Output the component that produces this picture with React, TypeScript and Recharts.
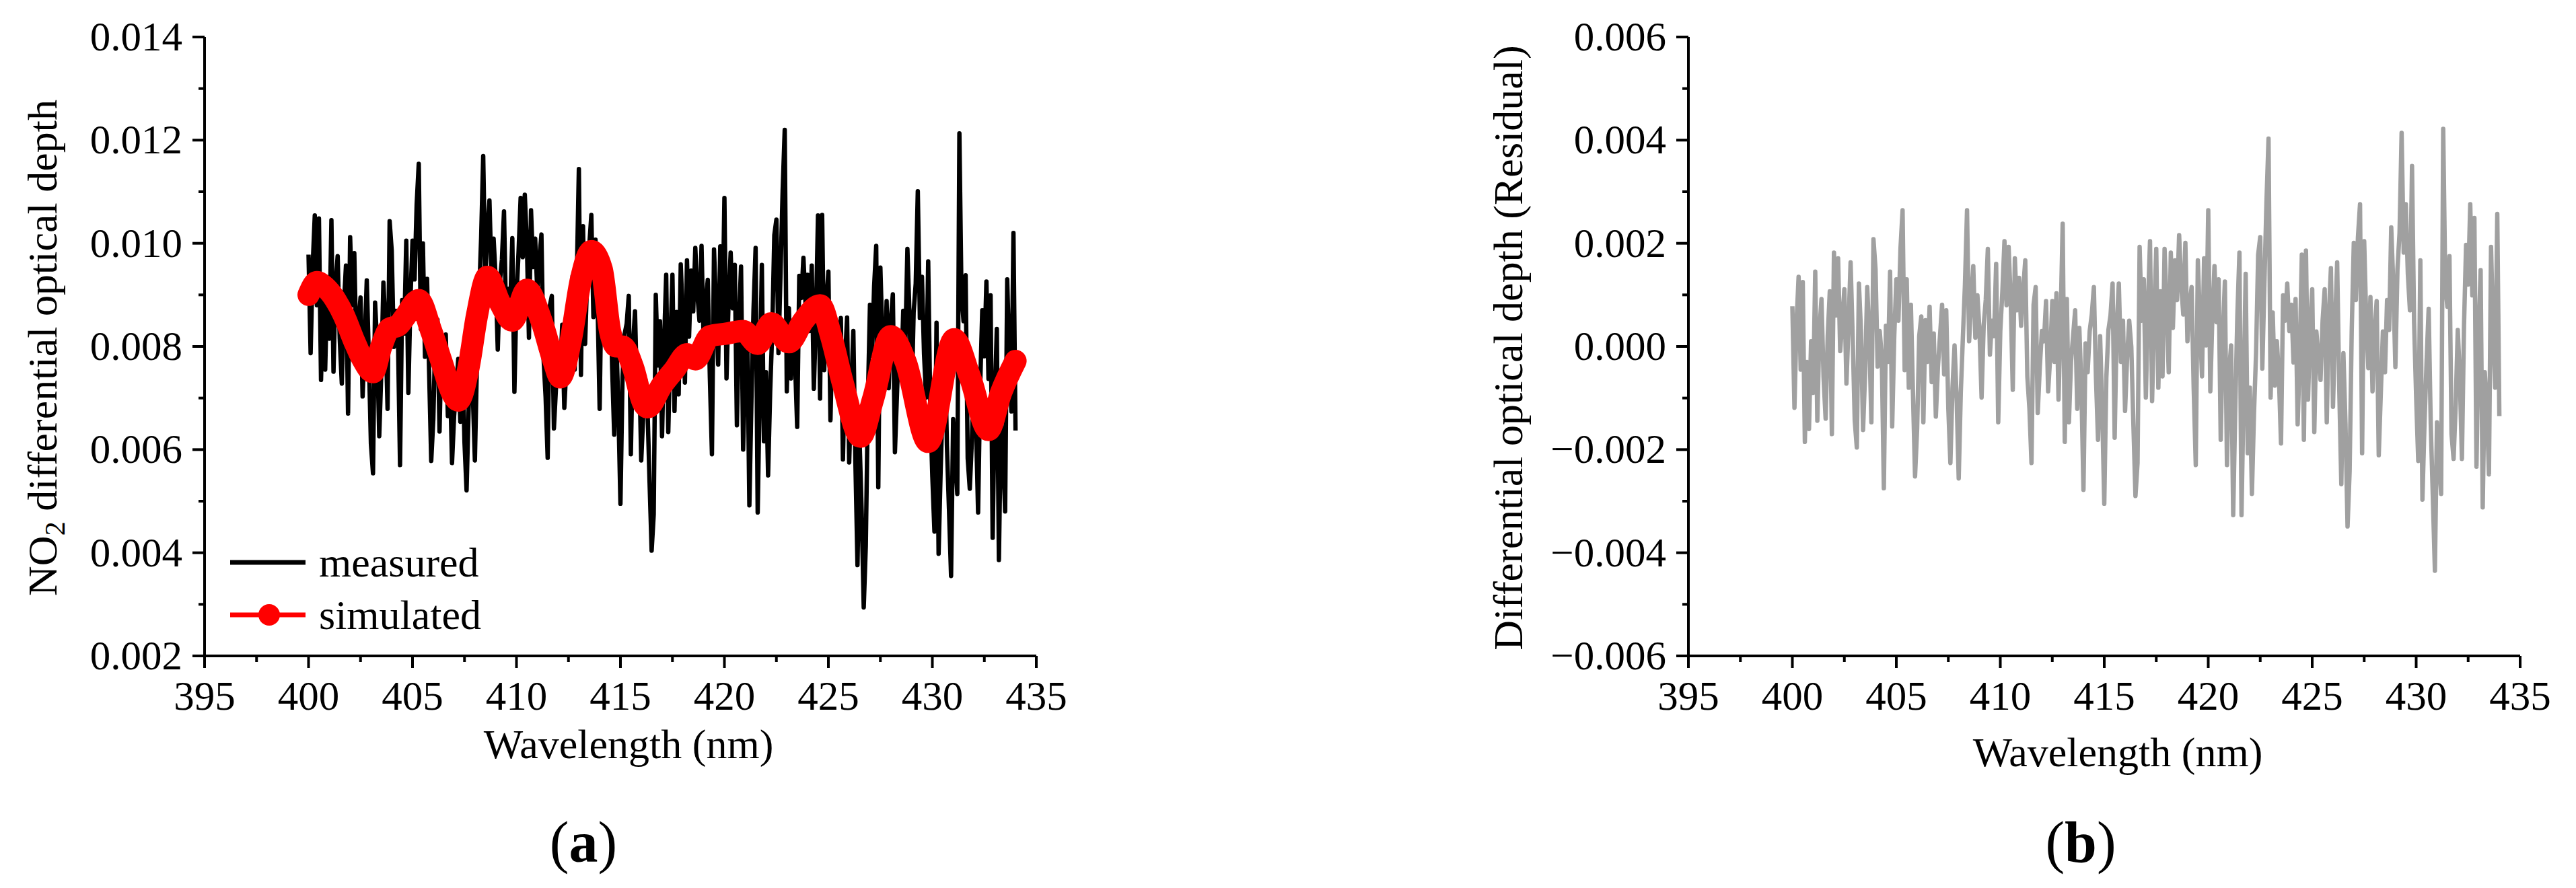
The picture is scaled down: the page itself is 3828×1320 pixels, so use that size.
import React from 'react';
import { LineChart, Line, XAxis, YAxis, Legend } from 'recharts';

const FONT = "'Liberation Serif', 'Times New Roman', serif";

// spectra are sampled every 0.1 nm from 400 to 434 nm
const WL_START = 400;
const WL_STEP = 0.1;

// measured NO2 differential optical depth (units of 1e-3), one row per nm
const measured = [
  9.78, 7.87, 9.57, 10.54, 8.8, 10.48, 7.35, 8.88, 7.55, 9.2,
  8.15, 10.45, 7.51, 9.2, 9.75, 8.15, 7.28, 8.8, 9.57, 6.7,
  10.12, 8.8, 9.81, 7.92, 8.43, 8.95, 7.03, 8.1, 9.28, 7.8,
  6.11, 5.54, 8.85, 8.05, 6.26, 7.5, 9.24, 8.38, 6.79, 10.43,
  9.86, 7.99, 8.69, 8.2, 5.7, 8.9, 8.25, 10.05, 7.1, 8.9,
  10.05, 9.3, 10.75, 11.54, 8.34, 10.0, 7.8, 9.31, 7.5, 5.78,
  6.58, 8.26, 8.52, 6.35, 8.21, 7.28, 8.23, 6.65, 7.47, 5.74,
  6.65, 7.2, 7.76, 6.54, 7.91, 6.14, 5.21, 6.8, 7.87, 7.1,
  5.79, 7.7, 8.92, 10.1, 11.69, 9.3, 10.25, 10.83, 9.35, 10.09,
  9.32, 7.94, 9.25, 9.69, 10.62, 8.52, 9.12, 8.76, 10.1, 7.12,
  8.97, 9.83, 10.88, 9.73, 10.94, 10.0, 8.17, 10.64, 9.54, 10.09,
  9.07, 9.69, 10.17, 7.79, 7.03, 5.84, 8.78, 8.98, 6.41, 7.2,
  7.8, 7.5, 8.42, 6.81, 7.62, 8.84, 7.8, 9.37, 7.55, 9.32,
  11.44, 7.45, 10.33, 8.05, 9.33, 9.94, 10.55, 8.57, 10.07, 8.84,
  6.79, 9.56, 8.7, 9.2, 9.22, 9.45, 7.6, 6.29, 8.2, 6.8,
  4.95, 7.4, 8.24, 8.44, 8.98, 5.91, 8.0, 8.68, 7.02, 7.68,
  5.79, 6.7, 7.36, 6.81, 5.38, 4.04, 4.74, 9.0, 7.63, 8.49,
  6.26, 8.1, 9.39, 6.34, 8.05, 9.39, 6.75, 8.67, 7.07, 9.59,
  8.55, 7.3, 9.67, 8.19, 9.47, 8.68, 9.91, 9.01, 8.5, 9.95,
  8.11, 8.87, 9.29, 7.4, 5.91, 9.88, 8.72, 7.65, 9.94, 8.26,
  10.88, 7.38, 8.86, 9.82, 8.74, 9.58, 6.47, 8.49, 9.55, 6.0,
  7.76, 8.25, 4.92, 6.96, 8.72, 9.91, 4.78, 7.21, 9.58, 6.16,
  7.5, 5.5, 7.12, 8.3, 10.16, 10.46, 7.87, 9.45, 11.01, 12.2,
  7.13, 8.74, 7.38, 8.3, 7.66, 6.44, 9.37, 8.94, 9.72, 8.84,
  9.39, 8.3, 9.57, 7.18, 8.53, 10.54, 6.99, 10.55, 7.54, 8.86,
  9.45, 6.57, 8.38, 7.73, 7.12, 8.1, 8.55, 5.81, 7.76, 8.56,
  5.75, 7.19, 8.3, 5.75, 3.76, 6.18, 4.81, 2.94, 4.14, 6.98,
  8.81, 7.82, 9.17, 9.95, 5.27, 9.53, 8.13, 7.36, 8.88, 7.19,
  8.5, 9.01, 5.95, 7.09, 8.22, 7.36, 8.69, 8.04, 9.89, 8.64,
  6.9, 8.66, 9.22, 11.01, 8.55, 9.35, 7.85, 7.01, 9.65, 6.78,
  5.47, 4.41, 8.46, 3.98, 5.61, 6.96, 8.15, 6.08, 4.84, 3.55,
  6.59, 5.9, 5.14, 12.13, 9.02, 8.49, 9.38, 5.83, 5.24, 6.17,
  7.51, 6.48, 4.78, 7.24, 8.7, 7.81, 9.26, 7.37, 8.99, 4.29,
  6.94, 8.34, 3.86, 6.6, 5.99, 4.8, 9.3, 7.75, 6.74, 10.2,
  6.37,
];

// residual of the fit (units of 1e-3), same grid
const residual = [
  0.78, -1.19, 0.45, 1.35, -0.45, 1.25, -1.85, -0.3, -1.6, 0.1,
  -0.9, 1.45, -1.44, 0.3, 0.92, -0.6, -1.4, 0.2, 1.07, -1.7,
  1.82, 0.6, 1.71, -0.09, 0.5, 1.11, -0.72, 0.4, 1.63, 0.2,
  -1.44, -1.96, 1.22, 0.3, -1.62, -0.5, 1.15, 0.2, -1.47, 2.08,
  1.5, -0.39, 0.3, -0.2, -2.75, 0.4, -0.3, 1.45, -1.55, 0.2,
  1.3, 0.5, 1.9, 2.64, -0.46, 1.3, -0.8, 0.81, -0.9, -2.52,
  -1.6, 0.2, 0.58, -1.47, 0.51, -0.3, 0.77, -0.69, 0.25, -1.36,
  -0.4, 0.2, 0.81, -0.54, 0.7, -1.2, -2.26, -0.8, 0.02, -1.0,
  -2.56, -0.9, 0.17, 1.2, 2.64, 0.1, 0.9, 1.56, 0.17, 0.99,
  0.3, -0.99, 0.4, 0.9, 1.89, -0.16, 0.5, 0.2, 1.6, -1.47,
  0.3, 1.07, 2.04, 0.8, 1.93, 0.9, -0.84, 1.71, 0.7, 1.33,
  0.4, 1.1, 1.67, -0.58, -1.2, -2.26, 0.81, 1.15, -1.29, -0.4,
  0.3, 0.1, 0.88, -0.87, -0.2, 0.88, -0.3, 1.03, -1.03, 0.5,
  2.38, -1.85, 0.92, -1.47, -0.3, 0.2, 0.7, -1.21, 0.36, -0.8,
  -2.78, 0.06, -0.5, 0.3, 0.62, 1.15, -0.6, -1.81, 0.2, -1.2,
  -3.05, -0.6, 0.32, 0.6, 1.22, -1.77, 0.4, 1.22, -0.3, 0.5,
  -1.25, -0.2, 0.5, -0.01, -1.5, -2.9, -2.26, 1.93, 0.5, 1.3,
  -0.99, 0.8, 2.04, -1.06, 0.6, 1.89, -0.8, 1.07, -0.58, 1.89,
  0.8, -0.5, 1.82, 0.36, 1.67, 0.9, 2.16, 1.2, 0.62, 2.01,
  0.1, 0.8, 1.15, -0.8, -2.3, 1.67, 0.5, -0.58, 1.71, 0.02,
  2.64, -0.87, 0.6, 1.56, 0.47, 1.3, -1.81, 0.2, 1.26, -2.3,
  -0.5, 0.02, -3.27, -1.2, 0.6, 1.82, -3.27, -0.9, 1.41, -2.07,
  -0.8, -2.86, -1.3, -0.13, 1.78, 2.12, -0.43, 1.2, 2.8, 4.03,
  -0.99, 0.66, -0.76, 0.1, -0.6, -1.88, 0.99, 0.5, 1.22, 0.3,
  0.81, -0.31, 0.92, -1.51, -0.2, 1.78, -1.81, 1.86, -1.03, 0.4,
  1.11, -1.66, 0.29, -0.2, -0.65, 0.5, 1.11, -1.47, 0.6, 1.52,
  -1.17, 0.4, 1.63, -0.8, -2.67, -0.13, -1.5, -3.49, -2.41, 0.3,
  2.01, 0.9, 2.12, 2.76, -2.07, 2.04, 0.5, -0.42, 0.96, -0.87,
  0.3, 0.88, -2.11, -0.9, 0.29, -0.5, 0.9, 0.32, 2.31, 1.2,
  -0.4, 1.5, 2.2, 4.14, 1.82, 2.76, 1.4, 0.7, 3.5, 0.47,
  -1.0, -2.22, 1.67, -2.97, -1.5, -0.3, 0.73, -1.5, -2.9, -4.35,
  -1.47, -2.2, -2.86, 4.22, 1.2, 0.77, 1.75, -1.7, -2.18, -1.14,
  0.32, -0.6, -2.18, 0.4, 1.97, 1.2, 2.76, 0.99, 2.49, -2.33,
  0.2, 1.48, -3.12, -0.5, -1.2, -2.48, 1.93, 0.3, -0.8, 2.57,
  -1.35,
];

// simulated curve, read at its turning points (nm, units of 1e-3)
const simWl = [
  400.0, 400.4, 400.8, 401.3, 401.7, 402.2, 402.6, 403.1, 403.5, 403.9,
  404.3, 404.6, 405.3, 405.9, 406.4, 406.9, 407.2, 407.7, 408.1, 408.6,
  409.2, 409.8, 410.5, 411.2, 411.8, 412.1, 412.6, 413.1, 413.6, 414.1,
  414.5, 414.8, 415.1, 415.6, 416.1, 416.3, 417.0, 417.6, 418.2, 418.6,
  419.3, 420.1, 420.9, 421.6, 422.25, 423.1, 423.8, 424.6, 425.15, 425.7,
  426.55, 427.15, 428.0, 428.7, 429.8, 431.05, 431.8, 432.7, 433.3, 434.0,
];
const simOd = [
  9.0, 9.25, 9.15, 8.9, 8.6, 8.1, 7.75, 7.5, 8.0, 8.35,
  8.4, 8.55, 8.9, 8.3, 7.7, 7.1, 6.95, 7.6, 8.6, 9.35,
  8.85, 8.5, 9.1, 8.5, 7.7, 7.4, 8.1, 9.3, 9.85, 9.5,
  8.3, 8.0, 8.0, 7.6, 6.9, 6.82, 7.25, 7.55, 7.85, 7.75,
  8.2, 8.25, 8.3, 8.05, 8.45, 8.08, 8.5, 8.8, 8.17, 7.28,
  6.25, 6.98, 8.2, 7.72, 6.15, 8.14, 7.42, 6.38, 7.1, 7.72,
];

const xTicks = [395, 397.5, 400, 402.5, 405, 407.5, 410, 412.5, 415, 417.5, 420, 422.5, 425, 427.5, 430, 432.5, 435];
const odTicks = [0.002, 0.003, 0.004, 0.005, 0.006, 0.007, 0.008, 0.009, 0.01, 0.011, 0.012, 0.013, 0.014];
const resTicks = [-0.006, -0.005, -0.004, -0.003, -0.002, -0.001, 0, 0.001, 0.002, 0.003, 0.004, 0.005, 0.006];

const wlAt = (i: number) => Math.round((WL_START + i * WL_STEP) * 10) / 10;
const measuredRows = measured.map((v, i) => ({ wl: wlAt(i), od: v / 1000 }));
const residualRows = residual.map((v, i) => ({ wl: wlAt(i), od: v / 1000 }));
const simRows = simWl.map((w, i) => ({ wl: w, od: simOd[i] / 1000 }));

const CHART_W = 1914;
const CHART_H = 1320;
const TICK_FONT = 61;

function XTick({ x, y, payload }: any) {
  const v = payload.value;
  const major = Math.abs(v / 5 - Math.round(v / 5)) < 1e-6;
  return (
    <g>
      <line x1={x} x2={x} y1={y} y2={y + (major ? 18 : 9)} stroke="#000" strokeWidth={4} />
      {major && (
        <text x={x} y={y + 80} textAnchor="middle" fontFamily={FONT} fontSize={TICK_FONT} fill="#000">
          {v}
        </text>
      )}
    </g>
  );
}

function YTick({ x, y, payload }: any) {
  const v = payload.value;
  const major = Math.round(v * 1000) % 2 === 0;
  return (
    <g>
      <line x1={x - (major ? 18 : 9)} x2={x} y1={y} y2={y} stroke="#000" strokeWidth={4} />
      {major && (
        <text x={x - 33} y={y + 20} textAnchor="end" fontFamily={FONT} fontSize={TICK_FONT} fill="#000">
          {v.toFixed(3).replace('-', '\u2212')}
        </text>
      )}
    </g>
  );
}

const xTitle = (dx: number, dy: number) => (props: any) => {
  const vb = props.viewBox ?? { x: 0, y: 0, width: 0, height: 0 };
  return (
    <text x={vb.x + vb.width / 2 + dx} y={vb.y + dy} textAnchor="middle" fontFamily={FONT} fontSize={62} fill="#000">
      Wavelength (nm)
    </text>
  );
};

const yTitle = (baseX: number, content: React.ReactNode) => (props: any) => {
  const vb = props.viewBox ?? { x: 0, y: 0, width: 0, height: 0 };
  const cx = vb.x + baseX;
  const cy = vb.y + vb.height / 2 + 2;
  return (
    <text transform={`translate(${cx},${cy}) rotate(-90)`} textAnchor="middle" fontFamily={FONT} fontSize={62} fill="#000">
      {content}
    </text>
  );
};

function LegendBox({ payload }: any) {
  return (
    <div style={{ fontFamily: FONT, fontSize: 62, color: '#000' }}>
      {(payload ?? []).map((entry: any) => (
        <div key={entry.value} style={{ display: 'flex', alignItems: 'center', height: 78 }}>
          <svg width={120} height={40} style={{ display: 'block' }}>
            <line x1={0} x2={112} y1={20} y2={20} stroke={entry.color} strokeWidth={7} />
            {entry.type === 'circle' && <circle cx={58} cy={20} r={16} fill={entry.color} />}
          </svg>
          <span style={{ marginLeft: 12, lineHeight: '78px', whiteSpace: 'nowrap' }}>{entry.value}</span>
        </div>
      ))}
    </div>
  );
}

const axisLine = { stroke: '#000', strokeWidth: 4 };

export default function App() {
  return (
    <div style={{ position: 'absolute', left: 0, top: 0, width: 3828, height: 1320, background: '#fff' }}>
      <div style={{ position: 'absolute', left: 0, top: 0 }}>
        <LineChart width={CHART_W} height={CHART_H} data={measuredRows} margin={{ top: 55, right: 374, bottom: 225, left: 0 }}>
          <XAxis
            type="number"
            dataKey="wl"
            domain={[395, 435]}
            ticks={xTicks}
            interval={0}
            height={120}
            tickSize={0}
            tickMargin={0}
            tickLine={false}
            axisLine={axisLine}
            tick={<XTick />}
            label={xTitle(12, 152)}
          />
          <YAxis
            type="number"
            domain={[0.002, 0.014]}
            ticks={odTicks}
            interval={0}
            width={304}
            tickSize={0}
            tickMargin={0}
            tickLine={false}
            axisLine={axisLine}
            tick={<YTick />}
            label={yTitle(84, (
              <>
                NO<tspan dy={12} fontSize={42}>2</tspan>
                <tspan dy={-12}> differential optical depth</tspan>
              </>
            ))}
          />
          <Legend
            layout="vertical"
            align="center"
            verticalAlign="middle"
            content={<LegendBox />}
            wrapperStyle={{ left: 342, top: 797, width: 520 }}
          />
          <Line
            name="measured"
            dataKey="od"
            type="linear"
            stroke="#000"
            strokeWidth={6.5}
            strokeLinejoin="round"
            dot={false}
            activeDot={false}
            legendType="line"
            isAnimationActive={false}
          />
          <Line
            name="simulated"
            data={simRows}
            dataKey="od"
            type="monotone"
            stroke="#ff0000"
            strokeWidth={33}
            strokeLinecap="round"
            strokeLinejoin="round"
            dot={false}
            activeDot={false}
            legendType="circle"
            isAnimationActive={false}
          />
        </LineChart>
      </div>

      <div style={{ position: 'absolute', left: 1914, top: 0 }}>
        <LineChart width={CHART_W} height={CHART_H} data={residualRows} margin={{ top: 55, right: 83, bottom: 225, left: 0 }}>
          <XAxis
            type="number"
            dataKey="wl"
            domain={[395, 435]}
            ticks={xTicks}
            interval={0}
            height={120}
            tickSize={0}
            tickMargin={0}
            tickLine={false}
            axisLine={axisLine}
            tick={<XTick />}
            label={xTitle(20, 164)}
          />
          <YAxis
            type="number"
            domain={[-0.006, 0.006]}
            ticks={resTicks}
            interval={0}
            width={595}
            tickSize={0}
            tickMargin={0}
            tickLine={false}
            axisLine={axisLine}
            tick={<YTick />}
            label={yTitle(348, 'Differential optical depth (Residual)')}
          />
          <Line
            name="residual"
            dataKey="od"
            type="linear"
            stroke="#a0a0a0"
            strokeWidth={6.5}
            strokeLinejoin="round"
            dot={false}
            activeDot={false}
            isAnimationActive={false}
          />
        </LineChart>
      </div>

      <svg width={3828} height={1320} style={{ position: 'absolute', left: 0, top: 0, pointerEvents: 'none' }}>
        <text x={867} y={1281} textAnchor="middle" fontFamily={FONT} fontSize={86} fill="#000">
          (<tspan fontWeight="bold">a</tspan>)
        </text>
        <text x={3092} y={1281} textAnchor="middle" fontFamily={FONT} fontSize={86} fill="#000">
          (<tspan fontWeight="bold">b</tspan>)
        </text>
      </svg>
    </div>
  );
}
